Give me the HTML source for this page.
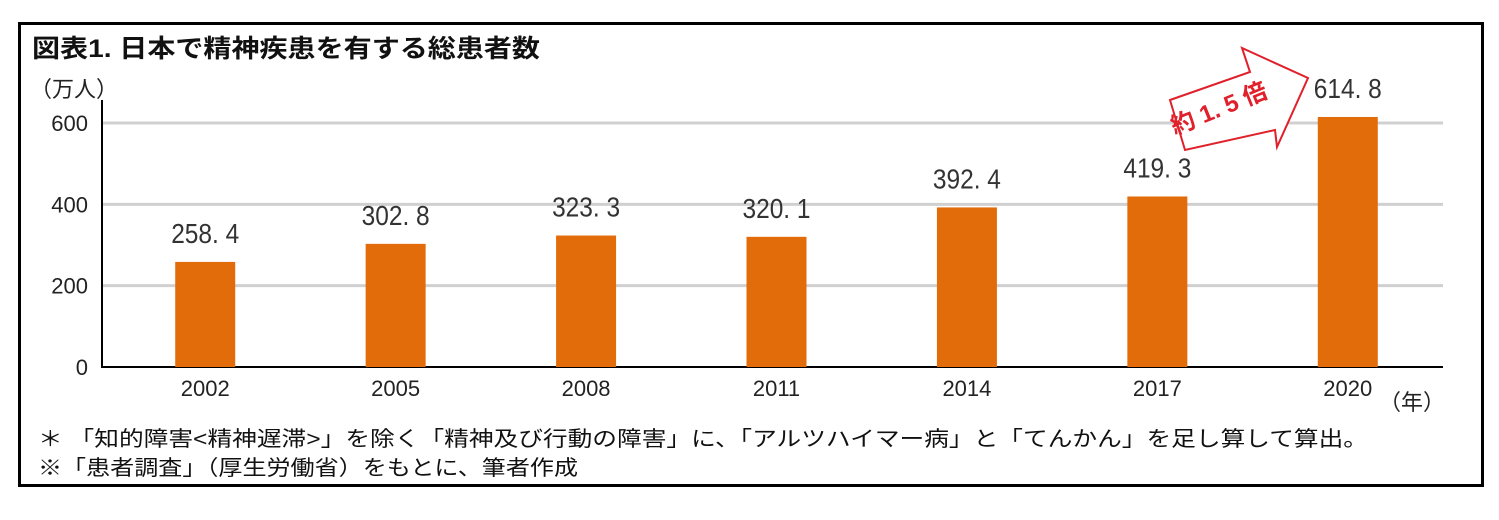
<!DOCTYPE html>
<html><head><meta charset="utf-8"><style>
body{margin:0;background:#fff;}
svg text{font-family:"Liberation Sans","Noto Sans CJK JP",sans-serif;}
</style></head><body>
<svg width="1499" height="515" viewBox="0 0 1499 515" xmlns="http://www.w3.org/2000/svg">
<rect x="19.5" y="23.5" width="1463" height="462" fill="#fff" stroke="#000" stroke-width="3"/>
<text x="32" y="57" font-size="25" font-weight="bold" fill="#111" textLength="508" lengthAdjust="spacingAndGlyphs">図表1.  日本で精神疾患を有する総患者数</text>
<text x="30" y="97" font-size="22" fill="#222">（万人）</text>
<g id="grid"></g>
<g id="bars"></g>
<line x1="102" y1="100" x2="102" y2="368" stroke="#000" stroke-width="2"/>
<text x="1445" y="410" font-size="22" fill="#222" text-anchor="end">（年）</text>
<text x="38" y="446" font-size="21" fill="#111" textLength="1330" lengthAdjust="spacingAndGlyphs">＊ 「知的障害&lt;精神遅滞&gt;」を除く「精神及び行動の障害」に、「アルツハイマー病」と「てんかん」を足し算して算出。</text>
<text x="38" y="475" font-size="21" fill="#111" textLength="540" lengthAdjust="spacingAndGlyphs">※「患者調査」（厚生労働省）をもとに、筆者作成</text>
<g>
<polygon points="1170,100 1250,72 1242,48 1308,78 1277,147 1275,130 1185,150" fill="#fff" stroke="#e0202a" stroke-width="2"/>
<text x="1222" y="116" font-size="24" font-weight="bold" fill="#e0202a" text-anchor="middle" transform="rotate(-22 1222 116)">約 1. 5 倍</text>
</g>
</svg>
<script>
const categories=["2002","2005","2008","2011","2014","2017","2020"];
const values=[258.4,302.8,323.3,320.1,392.4,419.3,614.8];
const labels=["258.4","302.8","323.3","320.1","392.4","419.3","614.8"];
const ticks=[0,200,400,600];
const NS="http://www.w3.org/2000/svg";
const x0=110,x1=1443,y0=367,yTop=123;
const yS=v=>y0-(v/600)*(y0-yTop);
const band=(x1-x0)/categories.length;
const xC=i=>x0+band*(i+0.5);
function mk(t,a,p){const e=document.createElementNS(NS,t);for(const k in a)e.setAttribute(k,a[k]);p.appendChild(e);return e;}
const g=document.getElementById('grid'),b=document.getElementById('bars');
ticks.forEach(t=>{
 if(t>0){const l=mk('line',{x1:103,x2:x1,y1:yS(t),y2:yS(t),stroke:'#d0d0d0','stroke-width':3},g);
 
 }
 const tx=mk('text',{x:88,y:yS(t)+8,'font-size':22,fill:'#222','text-anchor':'end'},g);tx.textContent=t;
 
 
});
const base=mk('line',{x1:102,x2:x1,y1:y0,y2:y0,stroke:'#000','stroke-width':2},g);


categories.forEach((c,i)=>{
 const w=60;
 const r=mk('rect',{x:xC(i)-w/2,y:yS(values[i]),width:w,height:y0-yS(values[i]),fill:'#e36c0a'},b);
 
 
 const v=mk('text',{x:xC(i)-34,y:yS(values[i])-19,'font-size':28,fill:'#333',textLength:68,lengthAdjust:'spacingAndGlyphs'},b);v.textContent=labels[i].replace('.','. ');
 
 
 const t=mk('text',{x:xC(i),y:396,'font-size':22,fill:'#222','text-anchor':'middle'},b);t.textContent=c;
 
 
});
</script>
</body></html>
